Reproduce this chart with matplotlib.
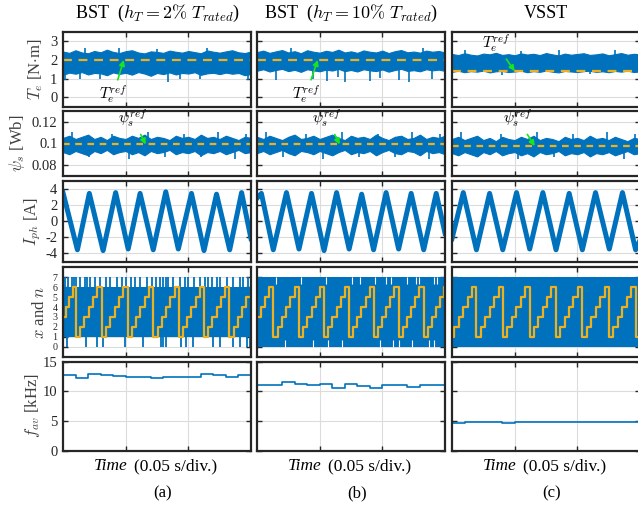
import numpy as np
import matplotlib
matplotlib.use('Agg')
import matplotlib.pyplot as plt

plt.rcParams['font.family'] = ['Liberation Serif', 'DejaVu Serif']
plt.rcParams['mathtext.fontset'] = 'cm'

BLUE = '#0072BD'
ORANGE = '#EDB120'
GREEN = '#19E619'
DARK = '#262626'

# ---------------- data (time in divisions, 1 div = 0.05 s) ----------------
env_t = np.linspace(0, 3, 31)

# torque band envelopes [N.m]
te_hi_a = [2.45, 2.38, 2.52, 2.40, 2.36, 2.48, 2.41, 2.55, 2.43, 2.37, 2.47, 2.52, 2.40, 2.35, 2.46, 2.43,
           2.38, 2.50, 2.44, 2.39, 2.48, 2.42, 2.36, 2.51, 2.44, 2.39, 2.46, 2.52, 2.41, 2.37, 2.45]
te_lo_a = [1.20, 1.32, 1.26, 1.35, 1.22, 1.30, 1.28, 1.18, 1.33, 1.25, 1.31, 1.21, 1.35, 1.27, 1.15, 1.30,
           1.24, 1.33, 1.22, 1.30, 1.27, 1.34, 1.20, 1.28, 1.31, 1.24, 1.32, 1.26, 1.30, 1.18, 1.25]
te_hi_b = [2.42, 2.50, 2.38, 2.46, 2.53, 2.40, 2.47, 2.36, 2.52, 2.44, 2.39, 2.49, 2.43, 2.55, 2.40, 2.46,
           2.38, 2.51, 2.44, 2.40, 2.50, 2.37, 2.47, 2.53, 2.41, 2.45, 2.39, 2.50, 2.44, 2.48, 2.40]
te_lo_b = [1.42, 1.50, 1.38, 1.46, 1.52, 1.40, 1.47, 1.36, 1.50, 1.44, 1.39, 1.48, 1.43, 1.52, 1.40, 1.46,
           1.38, 1.50, 1.44, 1.40, 1.49, 1.37, 1.46, 1.52, 1.41, 1.45, 1.39, 1.50, 1.44, 1.48, 1.41]
te_hi_c = [2.32, 2.26, 2.36, 2.28, 2.24, 2.34, 2.30, 2.38, 2.27, 2.31, 2.25, 2.35, 2.29, 2.33, 2.26, 2.37,
           2.30, 2.24, 2.34, 2.28, 2.32, 2.36, 2.27, 2.30, 2.35, 2.25, 2.31, 2.37, 2.28, 2.33, 2.30]
te_lo_c = [1.36, 1.42, 1.34, 1.40, 1.37, 1.43, 1.33, 1.39, 1.41, 1.35, 1.38, 1.42, 1.34, 1.40, 1.36, 1.43,
           1.37, 1.33, 1.41, 1.38, 1.35, 1.40, 1.42, 1.36, 1.39, 1.34, 1.41, 1.37, 1.43, 1.35, 1.38]
te_ref = [2.0, 2.0, 1.4]
# torque spikes (time, value)
te_spk_t_a = [0.03, 0.27, 0.35, 0.59, 0.90, 1.50, 1.68, 1.87, 2.19, 2.30, 2.96]
te_spk_v_a = [0.90, 1.00, 2.65, 0.95, 2.62, 2.60, 0.80, 1.00, 0.95, 2.65, 0.90]
te_spk_t_b = [0.31, 0.55, 0.90, 1.12, 1.29, 1.40, 1.80, 1.96, 2.27, 2.43, 2.65, 2.80]
te_spk_v_b = [0.90, 2.65, 1.00, 0.85, 1.10, 0.80, 0.85, 1.05, 0.90, 0.80, 2.62, 0.95]
te_spk_t_c = [0.20, 0.80, 1.10, 1.70, 2.20, 2.60]
te_spk_v_c = [2.55, 1.20, 2.50, 2.52, 1.22, 2.55]

# stator flux envelopes [Wb]
psi_hi_a = [0.105, 0.107, 0.104, 0.106, 0.108, 0.104, 0.106, 0.103, 0.107, 0.105, 0.104, 0.107, 0.105,
            0.108, 0.104, 0.106, 0.105, 0.103, 0.107, 0.105, 0.106, 0.104, 0.108, 0.105, 0.106, 0.104,
            0.107, 0.105, 0.103, 0.106, 0.105]
psi_lo_a = [0.092, 0.090, 0.093, 0.091, 0.089, 0.093, 0.091, 0.094, 0.090, 0.092, 0.093, 0.090, 0.092,
            0.089, 0.093, 0.091, 0.092, 0.094, 0.090, 0.092, 0.091, 0.093, 0.089, 0.092, 0.091, 0.093,
            0.090, 0.092, 0.094, 0.091, 0.092]
psi_hi_b = [0.106, 0.104, 0.107, 0.105, 0.103, 0.106, 0.108, 0.104, 0.105, 0.107, 0.104, 0.106, 0.108,
            0.105, 0.103, 0.107, 0.105, 0.106, 0.104, 0.108, 0.105, 0.103, 0.106, 0.107, 0.104, 0.105,
            0.108, 0.104, 0.106, 0.105, 0.107]
psi_lo_b = [0.091, 0.093, 0.090, 0.092, 0.094, 0.091, 0.089, 0.093, 0.092, 0.090, 0.093, 0.091, 0.089,
            0.092, 0.094, 0.090, 0.092, 0.091, 0.093, 0.089, 0.092, 0.094, 0.091, 0.090, 0.093, 0.092,
            0.089, 0.093, 0.091, 0.092, 0.090]
psi_hi_c = [0.104, 0.106, 0.103, 0.105, 0.107, 0.103, 0.105, 0.102, 0.106, 0.104, 0.103, 0.106, 0.104,
            0.107, 0.103, 0.105, 0.104, 0.102, 0.106, 0.104, 0.105, 0.103, 0.107, 0.104, 0.105, 0.103,
            0.106, 0.104, 0.102, 0.105, 0.104]
psi_lo_c = [0.091, 0.089, 0.092, 0.090, 0.088, 0.092, 0.090, 0.093, 0.089, 0.091, 0.092, 0.089, 0.091,
            0.088, 0.092, 0.090, 0.091, 0.093, 0.089, 0.091, 0.090, 0.092, 0.088, 0.091, 0.090, 0.092,
            0.089, 0.091, 0.093, 0.090, 0.091]
psi_ref = [0.099, 0.099, 0.0975]
psi_spk_t = [0.15, 0.42, 0.78, 1.05, 1.36, 1.62, 1.93, 2.21, 2.48, 2.74, 2.92]
psi_spk_v = [0.110, 0.087, 0.109, 0.086, 0.110, 0.087, 0.109, 0.087, 0.110, 0.086, 0.109]

# phase current turning points [A]
i_t_a = [0, 0.23, 0.42, 0.64, 0.84, 1.04, 1.23, 1.44, 1.64, 1.84, 2.05, 2.25, 2.45, 2.66, 2.85, 3.0]
i_v_a = [3.6, -3.6, 3.5, -3.7, 3.6, -3.5, 3.5, -3.6, 3.7, -3.5, 3.5, -3.7, 3.4, -3.6, 3.6, -2.2]
i_t_b = [0, 0.07, 0.26, 0.47, 0.67, 0.87, 1.07, 1.27, 1.47, 1.67, 1.86, 2.06, 2.26, 2.46, 2.66, 2.86, 3.0]
i_v_b = [2.9, 3.5, -3.6, 3.6, -3.5, 3.5, -3.7, 3.6, -3.5, 3.4, -3.6, 3.6, -3.5, 3.5, -3.6, 3.5, -1.5]
i_t_c = [0, 0.18, 0.39, 0.60, 0.81, 1.03, 1.24, 1.45, 1.66, 1.87, 2.08, 2.29, 2.51, 2.72, 2.93, 3.0]
i_v_c = [-2.2, 3.6, -3.6, 3.5, -3.6, 3.6, -3.5, 3.6, -3.6, 3.5, -3.6, 3.6, -3.5, 3.6, -3.6, -2.4]

# voltage vector x: dense band plus spikes
x_band = [(1, 6), (0, 7), (0, 7)]
x_up_a = [0.03, 0.085, 0.14, 0.18, 0.21, 0.27, 0.35, 0.39, 0.43, 0.51, 0.59, 0.69, 0.75, 0.86, 0.94,
          1.01, 1.08, 1.15, 1.23, 1.34, 1.42, 1.49, 1.55, 1.60, 1.65, 1.68, 1.76, 1.87, 1.95, 2.00,
          2.09, 2.19, 2.27, 2.32, 2.37, 2.45, 2.50, 2.61, 2.72, 2.82, 2.88, 2.96]
x_dn_a = [0.06, 0.37, 0.54, 0.64, 0.99, 1.28, 1.57, 1.60, 1.65, 1.89, 1.97, 2.08, 2.40, 2.50, 2.72,
          2.82, 2.93, 2.98]
x_gap_top_b = [0.30, 0.70, 1.10, 1.51, 1.64, 1.88, 2.06, 2.14, 2.40, 2.54, 2.59, 2.83, 2.88]
x_gap_bot_b = [0.45, 0.90, 1.14, 1.35, 1.96, 2.17, 2.27, 2.48, 2.75, 2.83]

# sector number n (step edges and values)
n_t_a = [0.0, 0.05, 0.10, 0.155, 0.207,
         0.275, 0.343, 0.412, 0.480, 0.549, 0.618,
         0.687, 0.756, 0.825, 0.894, 0.963, 1.032,
         1.100, 1.168, 1.236, 1.305, 1.373, 1.441,
         1.509, 1.578, 1.646, 1.714, 1.783, 1.851,
         1.917, 1.984, 2.050, 2.117, 2.183, 2.250,
         2.317, 2.385, 2.452, 2.519, 2.587, 2.654,
         2.722, 2.790, 2.858, 2.926, 2.994]
n_v_a = [3, 4, 5, 6] + [1, 2, 3, 4, 5, 6] * 7
n_t_b = [0.0, 0.063, 0.130, 0.196, 0.263,
         0.330, 0.398, 0.466, 0.534, 0.602, 0.670,
         0.737, 0.804, 0.871, 0.938, 1.005, 1.072,
         1.138, 1.204, 1.270, 1.336, 1.402, 1.468,
         1.534, 1.600, 1.666, 1.732, 1.798, 1.864,
         1.930, 1.996, 2.062, 2.128, 2.194, 2.260,
         2.326, 2.392, 2.458, 2.524, 2.590, 2.657,
         2.723, 2.789, 2.855, 2.921, 2.987]
n_v_b = [3, 4, 5, 6] + [1, 2, 3, 4, 5, 6] * 7
n_t_c = [0.0, 0.035, 0.106, 0.177, 0.248, 0.318, 0.389,
         0.460, 0.531, 0.601, 0.672, 0.743, 0.814,
         0.885, 0.956, 1.027, 1.098, 1.169, 1.240,
         1.309, 1.378, 1.448, 1.517, 1.586, 1.655,
         1.726, 1.797, 1.868, 1.938, 2.009, 2.080,
         2.151, 2.222, 2.293, 2.363, 2.434, 2.505,
         2.576, 2.647, 2.718, 2.788, 2.859, 2.930]
n_v_c = [1, 2, 3, 4, 5, 6] * 7 + [1]

# average switching frequency [kHz], updated every 0.2 div
fav_t = np.linspace(0, 3, 16)
fav_a = [12.8, 12.3, 13.0, 12.8, 12.6, 12.5, 12.4, 12.3, 12.4, 12.5, 12.5, 13.0, 12.8, 12.5, 12.8]
fav_b = [11.1, 11.0, 11.5, 11.2, 11.0, 11.2, 10.6, 11.2, 10.9, 10.6, 11.0, 11.0, 10.8, 11.1, 11.1]
fav_c = [4.6, 4.85, 4.85, 4.85, 4.7, 4.75, 4.75, 4.75, 4.75, 4.75, 4.78, 4.78, 4.75, 4.75, 4.75]

titles = [r'BST  ($h_T = 2\%\ T_{rated}$)', r'BST  ($h_T = 10\%\ T_{rated}$)', 'VSST']
ylabels = [r'$T_e$ [N$\cdot$m]', r'$\psi_s$ [Wb]', r'$I_{ph}$ [A]', r'$x$ and $n$', r'$f_{av}$ [kHz]']
ylabel_x = [36, 17, 33, 40, 33]
ylims = [(-0.5, 3.5), (0.07, 0.13), (-5.1, 5.1), (-1, 8), (0, 15)]
yticks = [[0, 1, 2, 3], [0.08, 0.1, 0.12], [-4, -2, 0, 2, 4], [0, 1, 2, 3, 4, 5, 6, 7], [0, 5, 10, 15]]
yticklabels = [['0', '1', '2', '3'], ['0.08', '0.1', '0.12'], ['-4', '-2', '0', '2', '4'],
               [str(v) for v in range(8)], ['0', '5', '10', '15']]
tick_fs = [10.5, 10.5, 10.5, 7.2, 10.5]
sub_labels = ['(a)', '(b)', '(c)']

# ---------------- layout ----------------
W, H = 638, 505
fig = plt.figure(figsize=(W / 100, H / 100), dpi=100)
col_left = [63, 257, 452]
col_w = 188
rows = [(32, 106.5), (110.7, 176), (180.7, 261.7), (267.3, 356.7), (361.7, 450.5)]

axes = [[None] * 3 for _ in range(5)]
for r in range(5):
    for c in range(3):
        y0, y1 = rows[r]
        ax = fig.add_axes([col_left[c] / W, 1 - y1 / H, col_w / W, (y1 - y0) / H])
        ax.set_xlim(0, 3)
        ax.set_ylim(*ylims[r])
        ax.set_xticks([1, 2])
        ax.set_xticklabels([])
        ax.set_yticks(yticks[r])
        if c == 0:
            ax.set_yticklabels(yticklabels[r], fontsize=tick_fs[r], color='#333333')
        else:
            ax.set_yticklabels([])
        ax.tick_params(direction='in', length=3.5, width=1, top=True, right=True, pad=4, colors=DARK)
        ax.grid(True, color='#dcdcdc', lw=0.8)
        ax.set_axisbelow(True)
        for s in ax.spines.values():
            s.set_linewidth(1.6)
            s.set_color(DARK)
        axes[r][c] = ax

te_hi = [te_hi_a, te_hi_b, te_hi_c]
te_lo = [te_lo_a, te_lo_b, te_lo_c]
te_spk = [(te_spk_t_a, te_spk_v_a), (te_spk_t_b, te_spk_v_b), (te_spk_t_c, te_spk_v_c)]
psi_hi = [psi_hi_a, psi_hi_b, psi_hi_c]
psi_lo = [psi_lo_a, psi_lo_b, psi_lo_c]
i_data = [(i_t_a, i_v_a), (i_t_b, i_v_b), (i_t_c, i_v_c)]
n_data = [(n_t_a, n_v_a), (n_t_b, n_v_b), (n_t_c, n_v_c)]
fav = [fav_a, fav_b, fav_c]

arrow = dict(arrowstyle='-|>', color=GREEN, lw=1.2, mutation_scale=8, shrinkA=1, shrinkB=0)
te_ann = [((0.97, 2.0), (0.80, 0.12)), ((0.97, 2.0), (0.78, 0.12)), ((1.0, 1.4), (0.70, 2.85))]
psi_ann = [((1.32, 0.099), (1.12, 0.122)), ((1.32, 0.099), (1.12, 0.122)), ((1.32, 0.0975), (1.05, 0.122))]

for c in range(3):
    # torque
    ax = axes[0][c]
    ax.fill_between(env_t, te_lo[c], te_hi[c], color=BLUE, lw=0.8, edgecolor=BLUE)
    base = np.interp(te_spk[c][0], env_t, (np.array(te_lo[c]) + np.array(te_hi[c])) / 2)
    ax.vlines(te_spk[c][0], base, te_spk[c][1], color=BLUE, lw=1.2)
    ax.axhline(te_ref[c], color=ORANGE, lw=1.6, dashes=(4, 3))
    ax.annotate(r'$T_e^{ref}$', xy=te_ann[c][0], xytext=te_ann[c][1], fontsize=11,
                ha='center', va='center', arrowprops=arrow, annotation_clip=False)

    # flux
    ax = axes[1][c]
    ax.fill_between(env_t, psi_lo[c], psi_hi[c], color=BLUE, lw=0.8, edgecolor=BLUE)
    ax.vlines(psi_spk_t, psi_ref[c], psi_spk_v, color=BLUE, lw=1.2)
    ax.axhline(psi_ref[c], color=ORANGE, lw=1.6, dashes=(3, 2.5))
    ax.annotate(r'$\psi_s^{ref}$', xy=psi_ann[c][0], xytext=psi_ann[c][1], fontsize=11,
                ha='center', va='center', arrowprops=arrow, annotation_clip=False)

    # current
    ax = axes[2][c]
    ax.plot(i_data[c][0], i_data[c][1], color=BLUE, lw=3.6, solid_joinstyle='round')

    # voltage vector and sector
    ax = axes[3][c]
    lo, hi = x_band[c]
    ax.fill_between([0, 3], [lo, lo], [hi, hi], color=BLUE, lw=0)
    if c == 0:
        ax.vlines(x_up_a, 6, 7, color=BLUE, lw=1.3)
        ax.vlines(x_dn_a, 0, 1, color=BLUE, lw=1.3)
    if c == 1:
        ax.vlines(x_gap_top_b, 6.3, 7, color='white', lw=0.8)
        ax.vlines(x_gap_bot_b, 0, 0.7, color='white', lw=0.8)
    nt, nv = n_data[c]
    ax.step(list(nt) + [3.0], list(nv) + [nv[-1]], where='post', color=ORANGE, lw=1.6)

    # average frequency
    ax = axes[4][c]
    ax.step(fav_t, list(fav[c]) + [fav[c][-1]], where='post', color=BLUE, lw=1.2)

    # texts
    cx = (col_left[c] + col_w / 2) / W
    fig.text(cx, 1 - 13 / H, titles[c], ha='center', va='center', fontsize=13)
    xl = col_left[c] + col_w / 2
    fig.text((xl - 29) / W, 1 - 466 / H, 'Time', ha='right', va='center', fontsize=12.5,
             style='italic')
    fig.text((xl - 23) / W, 1 - 466 / H, '(0.05 s/div.)', ha='left', va='center', fontsize=12.5)
    fig.text((xl + 6) / W, 1 - 493 / H, sub_labels[c], ha='center', va='center', fontsize=12)

for r in range(5):
    y0, y1 = rows[r]
    fig.text(ylabel_x[r] / W, 1 - (y0 + y1) / 2 / H, ylabels[r], rotation=90, ha='center',
             va='center', fontsize=12, color='#404040')

fig.savefig('out.png', dpi=100)
